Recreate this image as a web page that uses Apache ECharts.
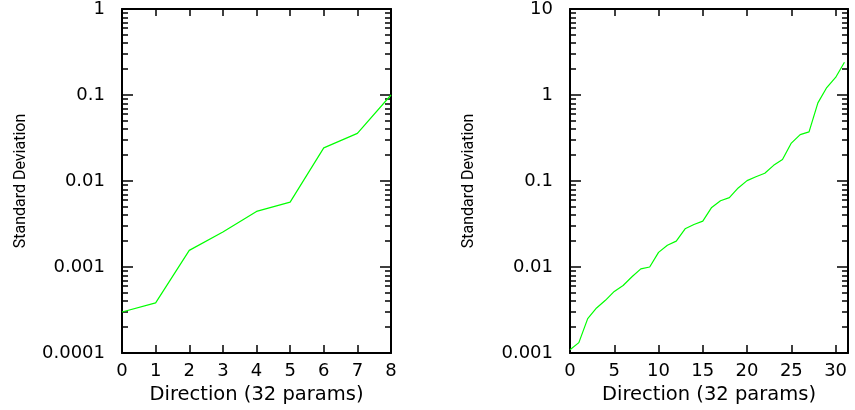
<!DOCTYPE html>
<html>
<head>
<meta charset="utf-8">
<script src="https://cdn.jsdelivr.net/npm/echarts@6/dist/echarts.min.js"></script>
<style>
html,body{margin:0;padding:0;background:#fff;}
#chart{width:855px;height:410px;}
</style>
</head>
<body>
<div id="chart"></div>
<script>
// ---- data ----
const leftX = [0, 1, 2, 3, 4, 5, 6, 7, 8];
const leftSD = [3.0e-4, 3.83e-4, 1.56e-3, 2.55e-3, 4.43e-3, 5.68e-3, 0.0243, 0.0358, 0.100];

const rightX = [0,1,2,3,4,5,6,7,8,9,10,11,12,13,14,15,16,17,18,19,20,21,22,23,24,25,26,27,28,29,30,31];
const rightSD = [1.09e-3, 1.32e-3, 2.51e-3, 3.34e-3, 4.1e-3, 5.2e-3, 6.1e-3, 7.7e-3, 9.5e-3, 0.0100,
                 0.0148, 0.0179, 0.0200, 0.0278, 0.0312, 0.0342, 0.0493, 0.059, 0.064, 0.083,
                 0.101, 0.112, 0.123, 0.152, 0.178, 0.276, 0.346, 0.372, 0.81, 1.22, 1.6, 2.4];

const leftXTicks = [0, 1, 2, 3, 4, 5, 6, 7, 8];
const rightXTicks = [0, 5, 10, 15, 20, 25, 30];
const leftYTicks = [0.0001, 0.001, 0.01, 0.1, 1];
const leftYLabels = ['0.0001', '0.001', '0.01', '0.1', '1'];
const rightYTicks = [0.001, 0.01, 0.1, 1, 10];
const rightYLabels = ['0.001', '0.01', '0.1', '1', '10'];
const minorMultipliers = [2, 3, 4, 5, 6, 7, 8, 9];

const xTitle = 'Direction (32 params)';
const yTitle = 'Standard Deviation';

// ---- build ----
function minorValues(majors) {
  const out = [];
  for (let i = 0; i < majors.length - 1; i++) {
    minorMultipliers.forEach(m => out.push(+(majors[i] * m).toPrecision(6)));
  }
  return out;
}
function labelFor(ticks, labels) {
  return function (v) {
    let best = 0, bd = Infinity;
    ticks.forEach((t, i) => {
      const d = Math.abs(Math.log10(v) - Math.log10(t));
      if (d < bd) { bd = d; best = i; }
    });
    return labels[best];
  };
}

const black = '#000';
const tickFont = { fontFamily: 'DejaVu Sans', fontSize: 18, color: black };

function xAxes(gridIndex, max, ticks) {
  return [
    {
      gridIndex, type: 'value', position: 'bottom', min: 0, max: max,
      axisLine: { show: true, onZero: false, lineStyle: { color: black, width: 2 } },
      axisTick: { show: true, inside: true, length: 8, customValues: ticks, lineStyle: { color: black, width: 1.5 } },
      axisLabel: Object.assign({ show: true, margin: 9, customValues: ticks }, tickFont),
      splitLine: { show: false },
      name: xTitle, nameLocation: 'middle', nameGap: 30,
      nameTextStyle: { fontFamily: 'DejaVu Sans', fontSize: 19.5, color: black }
    },
    {
      gridIndex, type: 'value', position: 'top', min: 0, max: max,
      axisLine: { show: true, onZero: false, lineStyle: { color: black, width: 2 } },
      axisTick: { show: true, inside: true, length: 7, customValues: ticks, lineStyle: { color: black, width: 1.5 } },
      axisLabel: { show: false },
      splitLine: { show: false }
    }
  ];
}

function yAxes(gridIndex, ticks, labels) {
  const min = ticks[0], max = ticks[ticks.length - 1];
  const minors = minorValues(ticks);
  const base = { gridIndex, type: 'log', logBase: 10, min, max, splitLine: { show: false } };
  return [
    Object.assign({}, base, {
      position: 'left',
      axisLine: { show: true, onZero: false, lineStyle: { color: black, width: 2 } },
      axisTick: { show: true, inside: true, length: 11, customValues: ticks, lineStyle: { color: black, width: 1.5 } },
      axisLabel: Object.assign({ show: true, margin: 17, customValues: ticks, formatter: labelFor(ticks, labels) }, tickFont),
      name: yTitle, nameLocation: 'middle', nameGap: 93, nameRotate: 90,
      nameTextStyle: { fontFamily: 'Roboto', fontSize: 16, color: black }
    }),
    Object.assign({}, base, {
      position: 'left',
      axisLine: { show: false, onZero: false },
      axisTick: { show: true, inside: true, length: 6, customValues: minors, lineStyle: { color: black, width: 1.5 } },
      axisLabel: { show: false }
    }),
    Object.assign({}, base, {
      position: 'right',
      axisLine: { show: true, onZero: false, lineStyle: { color: black, width: 2 } },
      axisTick: { show: true, inside: true, length: 11, customValues: ticks, lineStyle: { color: black, width: 1.5 } },
      axisLabel: { show: false }
    }),
    Object.assign({}, base, {
      position: 'right',
      axisLine: { show: false, onZero: false },
      axisTick: { show: true, inside: true, length: 6, customValues: minors, lineStyle: { color: black, width: 1.5 } },
      axisLabel: { show: false }
    })
  ];
}

const chart = echarts.init(document.getElementById('chart'), null, { renderer: 'canvas' });
chart.setOption({
  animation: false,
  backgroundColor: '#fff',
  grid: [
    { left: 122, top: 8, width: 269, height: 345 },
    { left: 570, top: 8, width: 278, height: 345 }
  ],
  xAxis: [].concat(xAxes(0, 8, leftXTicks), xAxes(1, 31.4, rightXTicks)),
  yAxis: [].concat(yAxes(0, leftYTicks, leftYLabels), yAxes(1, rightYTicks, rightYLabels)),
  series: [
    {
      type: 'line', xAxisIndex: 0, yAxisIndex: 0, showSymbol: false, silent: true,
      lineStyle: { color: '#00ff00', width: 1.2 },
      data: leftX.map((x, i) => [x, leftSD[i]])
    },
    {
      type: 'line', xAxisIndex: 2, yAxisIndex: 4, showSymbol: false, silent: true,
      lineStyle: { color: '#00ff00', width: 1.2 },
      data: rightX.map((x, i) => [x, rightSD[i]])
    }
  ]
});
</script>
</body>
</html>
